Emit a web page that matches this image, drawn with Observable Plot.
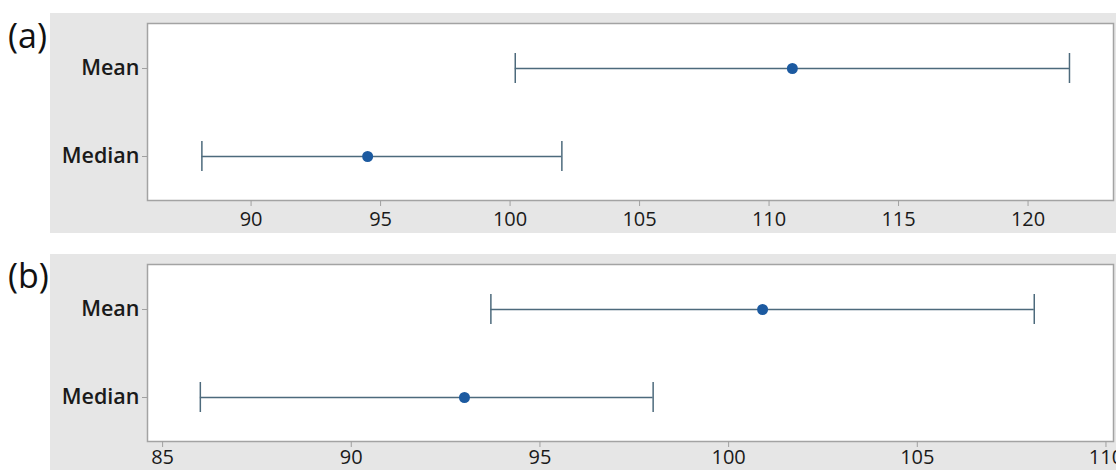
<!DOCTYPE html>
<html>
<head>
<meta charset="utf-8">
<script src="https://cdn.jsdelivr.net/npm/d3@7"></script>
<script src="https://cdn.jsdelivr.net/npm/@observablehq/plot@0.6"></script>
<style>
  html, body { margin: 0; padding: 0; background: #ffffff; }
  #wrap { position: relative; width: 1116px; height: 470px; overflow: hidden; font-family: "Open Sans", sans-serif; }
  .panel { position: absolute; left: 50px; }
  .tag { position: absolute; left: 8px; font-size: 34px; color: #111; font-family: "Open Sans", sans-serif; line-height: 1; }
</style>
</head>
<body>
<div id="wrap">
  <div class="tag" style="top:18px">(a)</div>
  <div class="tag" style="top:258px">(b)</div>
  <div class="panel" id="pa" style="top:13px"></div>
  <div class="panel" id="pb" style="top:254px"></div>
</div>
<script>
// Confidence intervals for the mean and the median, two samples
const stats = ["Mean", "Median"];

const estimateA = [110.9, 94.5];
const lowerA = [100.2, 88.1];
const upperA = [121.6, 102.0];
const ticksA = [90, 95, 100, 105, 110, 115, 120];
const domainA = [86.0, 123.3];

const estimateB = [100.9, 93.0];
const lowerB = [93.7, 86.0];
const upperB = [108.1, 98.0];
const ticksB = [85, 90, 95, 100, 105, 110];
const domainB = [84.6, 110.2];

const lineColor = "#4d6a7c";
const dotColor = "#1c5aa0";

function intervalPlot(est, lo, hi, ticks, domain, height, pad) {
  const rows = stats.map((s, i) => ({stat: s, est: est[i], lo: lo[i], hi: hi[i]}));
  return Plot.plot({
    width: 1066,
    height,
    marginLeft: 97,
    marginRight: 3,
    marginTop: 10,
    marginBottom: height - 187,
    style: {background: "#e6e6e6", fontFamily: "Open Sans, sans-serif", fontSize: "20px", overflow: "visible"},
    x: {domain, ticks},
    y: {type: "band", domain: stats, paddingInner: 0.661, paddingOuter: 0.331},
    marks: [
      Plot.frame({fill: "#ffffff", stroke: "#a3a3a3", strokeWidth: 1.5}),
      Plot.axisX({ticks, tickSize: 6, stroke: "#a0a0a0", fill: "#1a1a1a", fontSize: 20, tickPadding: pad, label: null}),
      Plot.axisY({tickSize: 5, stroke: "#a0a0a0", fill: "#1a1a1a", fontSize: 21.5, fontWeight: 600, tickPadding: 3, label: null}),
      Plot.ruleY(rows, {y: "stat", x1: "lo", x2: "hi", stroke: lineColor, strokeWidth: 1.5}),
      Plot.tickX(rows, {x: "lo", y: "stat", stroke: lineColor, strokeWidth: 1.5}),
      Plot.tickX(rows, {x: "hi", y: "stat", stroke: lineColor, strokeWidth: 1.5}),
      Plot.dot(rows, {x: "est", y: "stat", r: 5.5, fill: dotColor, stroke: "none"})
    ]
  });
}

document.getElementById("pa").append(intervalPlot(estimateA, lowerA, upperA, ticksA, domainA, 220, 5));
document.getElementById("pb").append(intervalPlot(estimateB, lowerB, upperB, ticksB, domainB, 216, 2));
</script>
</body>
</html>
